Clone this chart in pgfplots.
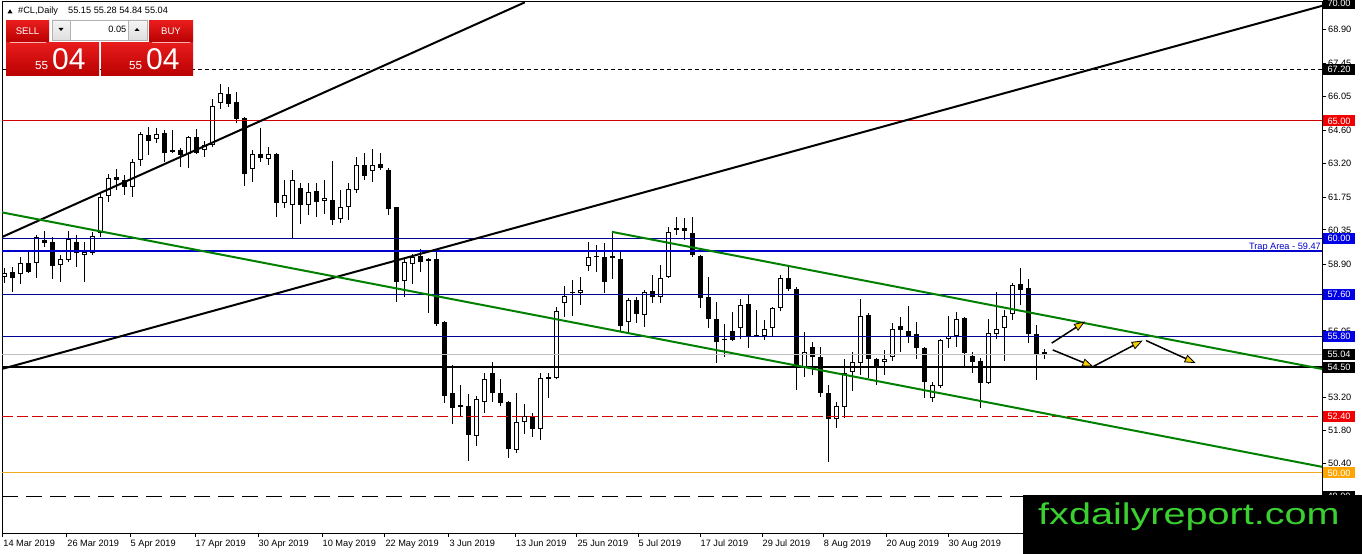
\documentclass[border=0pt]{standalone}
\usepackage{fontspec}
\setmainfont{Liberation Sans}
\usepackage{graphicx}
\usepackage{pgfplots}
\pgfplotsset{compat=1.18}
\usepackage{pgfplotstable}
\usetikzlibrary{arrows.meta}

\definecolor{navy}{RGB}{0,0,150}
\definecolor{trapblue}{RGB}{0,0,205}
\definecolor{boxblue}{RGB}{0,0,230}
\definecolor{lvlred}{RGB}{210,0,0}
\definecolor{boxred}{RGB}{240,0,0}
\definecolor{gold}{RGB}{240,170,30}
\definecolor{boxorange}{RGB}{255,165,0}
\definecolor{tgreen}{RGB}{0,128,0}
\definecolor{bidgray}{RGB}{192,192,192}
\definecolor{arrowyellow}{RGB}{245,205,0}
\definecolor{wmgreen}{RGB}{58,208,48}
\definecolor{mtredA}{RGB}{232,28,28}
\definecolor{mtredB}{RGB}{185,0,0}

\newcommand\lf{\fontsize{9.2bp}{11bp}\selectfont}

\pgfplotstableread{
i o h l c
1 58.35 58.74 58.09 58.52
2 58.56 58.78 57.71 58.31
3 58.48 59.21 58.05 58.95
4 58.95 59.50 58.52 58.56
5 58.95 60.14 58.31 60.06
6 59.93 60.31 59.63 59.80
7 59.84 60.06 58.27 58.82
8 58.86 59.29 58.14 59.12
9 59.08 60.31 58.99 59.97
10 59.84 60.14 58.78 59.37
11 59.29 59.84 58.14 59.42
12 59.37 60.27 59.30 60.10
13 60.23 61.93 60.06 61.76
14 61.80 62.74 61.55 62.57
15 62.61 62.95 62.06 62.49
16 62.49 62.70 61.85 62.19
17 62.19 63.38 61.76 63.25
18 63.34 64.53 63.08 64.45
19 64.40 64.74 63.55 64.15
20 64.23 64.70 64.06 64.45
21 64.49 64.62 63.25 63.64
22 63.76 64.62 63.64 63.68
23 63.76 63.85 63.04 63.55
24 63.59 64.36 63.00 64.32
25 64.32 64.66 63.59 63.64
26 63.76 64.15 63.47 63.98
27 63.98 65.94 63.89 65.64
28 65.77 66.58 65.51 66.19
29 66.15 66.45 65.60 65.72
30 65.81 66.24 64.91 65.08
31 65.13 65.17 62.23 62.74
32 62.95 63.76 62.40 63.59
33 63.59 64.70 63.25 63.42
34 63.38 63.89 63.12 63.59
35 63.59 63.62 60.91 61.50
36 61.50 62.49 61.29 61.85
37 61.42 62.91 59.97 62.49
38 62.14 62.36 60.61 61.42
39 61.42 62.36 60.99 61.97
40 62.02 62.36 60.91 61.55
41 61.59 62.49 61.04 61.72
42 61.63 63.29 60.57 60.78
43 60.82 62.06 60.65 61.33
44 61.33 62.36 60.78 62.10
45 62.06 63.47 61.93 63.12
46 63.12 63.64 62.49 62.66
47 62.87 63.81 62.40 63.12
48 63.17 63.64 62.91 63.00
49 62.91 63.00 60.99 61.25
50 61.33 61.35 57.29 58.14
51 58.18 59.16 57.50 58.99
52 58.90 59.33 58.05 59.21
53 59.25 59.55 58.56 58.99
54 59.12 59.14 56.82 59.03
55 59.12 59.46 56.26 56.35
56 56.43 56.48 52.98 53.28
57 53.41 54.60 52.09 52.77
58 52.90 53.75 52.39 52.81
59 52.86 53.37 50.51 51.62
60 51.58 53.28 51.15 53.15
61 53.03 54.26 52.56 54.01
62 54.26 54.73 53.03 53.41
63 53.41 54.01 52.86 52.98
64 53.03 53.05 50.64 51.02
65 50.98 53.41 50.85 52.17
66 52.17 52.94 51.66 52.43
67 52.43 52.56 51.53 51.88
68 51.88 54.26 51.41 54.05
69 54.09 54.26 53.20 54.01
70 54.05 57.07 54.00 56.90
71 57.24 57.97 56.65 57.54
72 57.67 58.22 56.69 57.71
73 57.67 58.35 57.16 57.80
74 58.82 59.84 58.61 59.21
75 59.21 59.72 58.56 59.25
76 59.21 59.80 57.67 58.14
77 59.25 60.27 58.27 59.16
78 59.12 59.42 56.05 56.26
79 56.43 57.46 56.01 57.37
80 57.37 57.50 56.39 56.78
81 56.73 57.80 56.22 57.71
82 57.76 58.44 57.24 57.50
83 57.50 58.86 57.24 58.31
84 58.35 60.48 58.31 60.27
85 60.44 60.91 60.14 60.36
86 60.44 60.87 59.93 60.31
87 60.23 60.91 59.21 59.29
88 59.25 59.29 57.03 57.46
89 57.50 58.35 56.18 56.56
90 56.56 57.29 54.69 55.58
91 55.71 56.35 54.94 55.67
92 56.05 56.86 55.63 55.67
93 56.18 57.42 55.71 57.16
94 57.20 57.63 55.33 55.84
95 55.88 56.95 55.80 55.84
96 55.84 56.52 55.67 56.14
97 56.18 57.07 55.80 57.03
98 57.03 58.44 56.90 58.31
99 58.31 58.78 57.76 57.84
100 57.84 57.93 53.54 54.56
101 54.52 56.01 54.09 55.16
102 55.37 55.58 54.18 54.94
103 54.94 55.37 53.24 53.41
104 53.41 53.75 50.47 52.30
105 52.30 53.03 51.92 52.86
106 52.81 54.86 52.34 54.26
107 54.31 55.16 53.49 54.73
108 54.69 57.42 54.18 56.69
109 56.73 56.82 54.05 54.86
110 54.86 54.90 53.75 54.48
111 54.73 55.24 54.18 54.86
112 54.94 56.39 54.77 56.14
113 56.26 56.65 55.16 56.09
114 56.05 57.12 55.54 55.80
115 55.92 56.43 54.86 55.33
116 55.33 55.37 53.20 53.88
117 53.20 53.88 53.03 53.75
118 53.71 55.71 53.62 55.67
119 55.71 56.69 55.33 55.84
120 55.84 56.86 55.37 56.56
121 56.60 56.65 54.52 55.12
122 54.99 55.16 54.26 54.73
123 54.77 54.90 52.77 53.84
124 53.84 56.56 53.80 55.97
125 55.92 57.71 55.71 56.14
126 56.18 56.95 54.77 56.69
127 56.78 58.10 56.52 58.01
128 58.05 58.74 57.16 57.80
129 57.88 58.27 55.54 55.92
130 55.92 56.31 53.96 55.03
131 55.15 55.28 54.84 55.04
}\cl

\begin{document}
\begin{tikzpicture}
\path[use as bounding box] (0,0) rectangle (1362bp,554bp);
\fill[white] (0,0) rectangle (1362bp,554bp);
\begin{axis}[
  at={(2bp,21bp)}, anchor=south west,
  x=8bp, y=23.47bp,
  xmin=0.75, xmax=165.75, ymin=47.44, ymax=70.07,
  axis line style={line width=1bp, black},
  xtick={0.84,8.84,16.75,24.875,32.75,40.75,48.6,56.6,64.9,72.6,80.25,88,95.75,103.4,111.25,119},
  ytick={68.90,67.45,66.05,64.60,63.20,61.75,60.35,58.90,57.50,56.05,54.65,53.20,51.80,50.40,49.00},
  xticklabel=\empty, yticklabel=\empty,
  xtick pos=bottom, ytick pos=right,
  tick align=outside, major tick length=4bp,
  tick style={black, line width=1bp},
  clip mode=individual,
]
% wicks
\addplot[forget plot, draw=none, mark=none, error bars/.cd, y dir=plus, y explicit, error mark=none,
  error bar style={draw=black, line width=1bp}]
  table[x=i, y=l, y error plus expr={\thisrow{h}-\thisrow{l}}] {\cl};
% bodies (black outer)
\addplot[forget plot, draw=none, mark=none, error bars/.cd, y dir=plus, y explicit, error mark=none,
  error bar style={draw=black, line width=5bp}]
  table[x=i, y expr={min(\thisrow{o},\thisrow{c})}, y error plus expr={max(abs(\thisrow{c}-\thisrow{o}),0.0426)}] {\cl};
% bodies (white inner for rising candles)
\addplot[forget plot, draw=none, mark=none, error bars/.cd, y dir=plus, y explicit, error mark=none,
  error bar style={draw=white, line width=3bp}]
  table[x=i, y expr={min(\thisrow{o},\thisrow{c})+0.0426}, y error plus expr={\thisrow{c}>\thisrow{o} ? max(\thisrow{c}-\thisrow{o}-0.0852,0) : 0}] {\cl};

% horizontal levels
\addplot[forget plot, black, line width=1bp, dash pattern=on 4bp off 3bp] coordinates {(0.75,67.20) (165.75,67.20)};
\addplot[forget plot, lvlred, line width=1bp] coordinates {(0.75,65.00) (165.75,65.00)};
\addplot[forget plot, navy, line width=1bp] coordinates {(0.75,60.00) (165.75,60.00)};
\addplot[forget plot, trapblue, line width=2bp] coordinates {(0.75,59.47) (165.75,59.47)};
\addplot[forget plot, navy, line width=1bp] coordinates {(0.75,57.60) (165.75,57.60)};
\addplot[forget plot, navy, line width=1bp] coordinates {(0.75,55.80) (165.75,55.80)};
\addplot[forget plot, bidgray, line width=1bp] coordinates {(0.75,55.04) (165.75,55.04)};
\addplot[forget plot, black, line width=2bp] coordinates {(0.75,54.50) (165.75,54.50)};
\addplot[forget plot, lvlred, line width=1bp, dash pattern=on 11bp off 4bp] coordinates {(0.75,52.40) (165.75,52.40)};
\addplot[forget plot, gold, line width=1bp] coordinates {(0.75,50.00) (165.75,50.00)};
\addplot[forget plot, black, line width=1bp, dash pattern=on 16bp off 8bp] coordinates {(0.75,49.00) (165.75,49.00)};

% trend lines
\addplot[forget plot, black, line width=2bp] coordinates {(0.75,60.05) (66.1,70.05)};
\addplot[forget plot, black, line width=2bp] coordinates {(0.75,54.43) (165.75,69.90)};
\addplot[forget plot, tgreen, line width=2bp] coordinates {(0.75,61.10) (165.75,50.26)};
\addplot[forget plot, tgreen, line width=2bp] coordinates {(77,60.27) (165.75,54.43)};

% arrows
\draw[line width=1.5bp, -{Triangle[length=11bp,width=8bp,fill=arrowyellow,line width=0.8bp]}] (axis cs:131.96,55.53) -- (axis cs:136.13,56.45);
\draw[line width=1.5bp, -{Triangle[length=11bp,width=8bp,fill=arrowyellow,line width=0.8bp]}] (axis cs:132.09,55.24) -- (axis cs:137.16,54.53);
\draw[line width=1.5bp, -{Triangle[length=11bp,width=8bp,fill=arrowyellow,line width=0.8bp]}] (axis cs:137.13,54.53) -- (axis cs:143.34,55.64);
\draw[line width=1.5bp, -{Triangle[length=11bp,width=8bp,fill=arrowyellow,line width=0.8bp]}] (axis cs:143.75,55.64) -- (axis cs:149.96,54.68);

\node[anchor=base east, inner sep=0pt, text=trapblue, font=\lf] at (axis cs:165.75,59.47) [xshift=-1bp, yshift=1.5bp] {Trap Area - 59.47};

% price scale labels (those fully hidden behind level boxes are left out)
\pgfplotsinvokeforeach{68.90,67.45,66.05,64.60,63.20,61.75,60.35,58.90,56.05,53.20,51.80,50.40}{
  \node[anchor=west, inner sep=0pt, font=\lf] at (axis cs:165.75,#1) [xshift=6bp] {#1};
}
\tikzset{pbox/.style={minimum width=32bp, minimum height=11bp, inner sep=0pt, text=white, font=\lf, xshift=17bp}}
\node[pbox, fill=black] at (axis cs:165.75,70.00) {70.00};
\node[pbox, fill=black] at (axis cs:165.75,67.20) {67.20};
\node[pbox, fill=boxred] at (axis cs:165.75,65.00) {65.00};
\node[pbox, fill=boxblue] at (axis cs:165.75,60.00) {60.00};
\node[pbox, fill=boxblue] at (axis cs:165.75,57.60) {57.60};
\node[pbox, fill=boxblue] at (axis cs:165.75,55.80) {55.80};
\node[pbox, fill=black] at (axis cs:165.75,55.04) {55.04};
\node[pbox, fill=black] at (axis cs:165.75,54.50) {54.50};
\node[pbox, fill=boxred] at (axis cs:165.75,52.40) {52.40};
\node[pbox, fill=boxorange] at (axis cs:165.75,50.00) {50.00};
\node[pbox, fill=black] at (axis cs:165.75,49.00) {49.00};

% date labels
\tikzset{dlab/.style={anchor=base west, inner sep=0pt, font=\lf, yshift=-13bp, xshift=0.5bp}}
\node[dlab] at (axis cs:0.84,47.44) {14 Mar 2019};
\node[dlab] at (axis cs:8.84,47.44) {26 Mar 2019};
\node[dlab] at (axis cs:16.75,47.44) {5 Apr 2019};
\node[dlab] at (axis cs:24.875,47.44) {17 Apr 2019};
\node[dlab] at (axis cs:32.75,47.44) {30 Apr 2019};
\node[dlab] at (axis cs:40.75,47.44) {10 May 2019};
\node[dlab] at (axis cs:48.6,47.44) {22 May 2019};
\node[dlab] at (axis cs:56.6,47.44) {3 Jun 2019};
\node[dlab] at (axis cs:64.9,47.44) {13 Jun 2019};
\node[dlab] at (axis cs:72.6,47.44) {25 Jun 2019};
\node[dlab] at (axis cs:80.25,47.44) {5 Jul 2019};
\node[dlab] at (axis cs:88,47.44) {17 Jul 2019};
\node[dlab] at (axis cs:95.75,47.44) {29 Jul 2019};
\node[dlab] at (axis cs:103.4,47.44) {8 Aug 2019};
\node[dlab] at (axis cs:111.25,47.44) {20 Aug 2019};
\node[dlab] at (axis cs:119,47.44) {30 Aug 2019};
\end{axis}

\begin{scope}[x=1bp,y=-1bp,shift={(0bp,554bp)}]
% header
\fill[black] (7.5,13.3) -- (12.5,13.3) -- (10,9.3) -- cycle;
\node[anchor=base west, inner sep=0pt, font=\lf] at (18,14) {\#CL,Daily};
\node[anchor=base west, inner sep=0pt, font=\lf] at (68,14) {55.15 55.28 54.84 55.04};
% trade panel
\shade[top color=mtredA, bottom color=mtredB] (6,21) rectangle (49,42);
\shade[top color=mtredA, bottom color=mtredB] (149,21) rectangle (193,42);
\node[text=white, inner sep=0pt, font=\fontsize{9.6bp}{11bp}\selectfont] at (27.5,31.5) {SELL};
\node[text=white, inner sep=0pt, font=\fontsize{9.6bp}{11bp}\selectfont] at (171,31.5) {BUY};
\shade[top color=gray!8, bottom color=gray!25] (52,20) rectangle (70,40);
\shade[top color=gray!8, bottom color=gray!25] (128,20) rectangle (147,40);
\fill[white] (70,20) rectangle (128,40);
\draw[gray!60, line width=0.8bp] (52,20) rectangle (147,40);
\draw[gray!60, line width=0.8bp] (70,20) -- (70,40) (128,20) -- (128,40);
\fill[black] (58.5,28) -- (63.5,28) -- (61,31) -- cycle;
\fill[black] (134.5,31) -- (139.5,31) -- (137,28) -- cycle;
\node[anchor=east, inner sep=0pt, font=\lf] at (126.5,29.5) {0.05};
\shade[top color=mtredA, bottom color=mtredB] (6,42.5) rectangle (99,76);
\shade[top color=mtredA, bottom color=mtredB] (101,42.5) rectangle (193,76);
\draw[red!30!white, line width=0.8bp] (10,42) -- (46,42) (152,42) -- (190,42);
\node[anchor=base west, inner sep=0pt, text=white, font=\fontsize{11.7bp}{12bp}\selectfont] at (35,70) {55};
\node[anchor=base west, inner sep=0pt, text=white, font=\fontsize{30bp}{30bp}\selectfont] at (52,70) {04};
\node[anchor=base west, inner sep=0pt, text=white, font=\fontsize{11.7bp}{12bp}\selectfont] at (129,70) {55};
\node[anchor=base west, inner sep=0pt, text=white, font=\fontsize{30bp}{30bp}\selectfont] at (146,70) {04};
% watermark
\fill[black] (1023,495) rectangle (1363,555);
\node[anchor=base west, inner sep=0pt, text=wmgreen, font=\fontsize{30bp}{30bp}\selectfont] at (1038,525) {\scalebox{1.32}[1]{fxdailyreport.com}};
\end{scope}
\end{tikzpicture}
\end{document}
